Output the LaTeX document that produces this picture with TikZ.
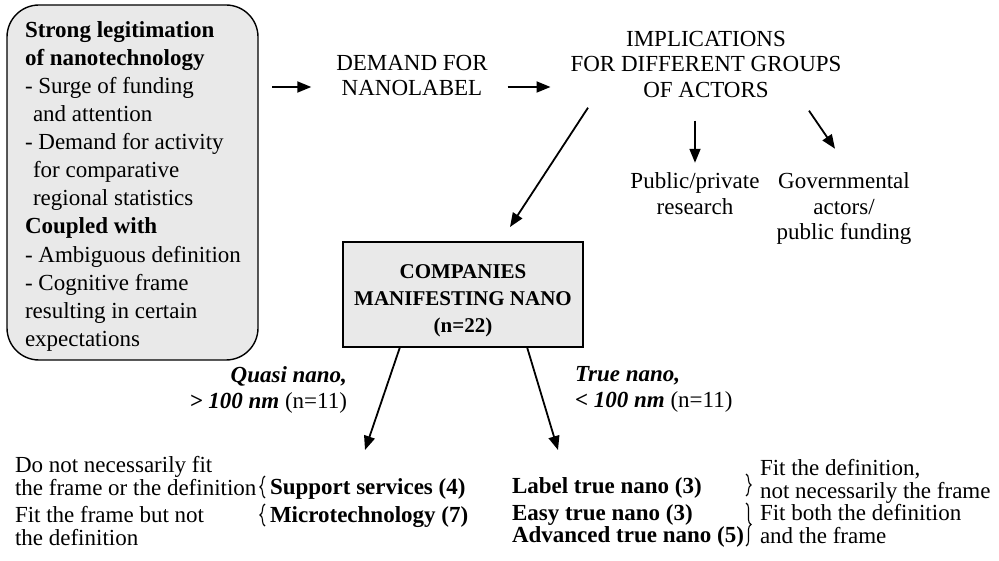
\documentclass[tikz,border=0pt]{standalone}
\usepackage{fontspec}
\setmainfont{Liberation Serif}
\usetikzlibrary{arrows.meta,decorations.pathreplacing}
\definecolor{panel}{HTML}{E9E9E9}
\begin{document}
\begin{tikzpicture}[x=1pt,y=-1pt,
  every node/.style={inner sep=0pt,outer sep=0pt},
  txt/.style={font=\fontsize{23}{25.5}\selectfont},
  sidetxt/.style={font=\fontsize{23}{23.5}\selectfont},
  paneltxt/.style={font=\fontsize{23}{28.1}\selectfont},
  flow/.style={line width=1.8pt,-{Triangle[length=14pt,width=11pt]}},
  panelbox/.style={draw,line width=1.4pt,fill=panel},
  curly/.style={line width=1.1pt,decorate,decoration={brace,amplitude=5pt}}]
\useasboundingbox (0,0) rectangle (999,561);

% left panel: context of the nanolabel
\node[panelbox,rounded corners=32pt,minimum width=251pt,minimum height=355pt] (legit) at (132.5,182.5) {};
\node[paneltxt,align=left,anchor=north west] (legittext) at (25,21.3) {%
\textbf{Strong legitimation}\\
\textbf{of nanotechnology}\\
- Surge of funding\\
\hspace*{8pt}and attention\\
- Demand for activity\\
\hspace*{8pt}for comparative\\
\hspace*{8pt}regional statistics\\
\textbf{Coupled with}\\
- Ambiguous definition\\
- Cognitive frame\\
resulting in certain\\
expectations};

% top row
\coordinate (row) at (0,87);
\node[txt,align=center] (demand) at (412,75.4) {DEMAND FOR\\NANOLABEL};
\node[txt,align=center] (impl) at (706,64.5) {IMPLICATIONS\\FOR DIFFERENT GROUPS\\OF ACTORS};
\node[txt,align=center] (pub) at (695,193.6) {Public/private\\research};
\node[txt,align=center] (gov) at (844,208.7) {Governmental\\actors/\\public funding};

% central box
\node[panelbox,minimum width=240pt,minimum height=105pt] (comp) at (463,294.5) {};
\node[font=\fontsize{21}{27}\selectfont\bfseries,align=center] (comptext) at (463,300.3) {COMPANIES\\MANIFESTING NANO\\(n=22)};

% branch labels
\node[txt,align=right,anchor=north east] (quasi) at (347,366.8) {\textbf{\textit{Quasi nano,}}\\\textbf{\textit{> 100 nm}} (n=11)};
\node[txt,align=left,anchor=north west] (truen) at (575,366.8) {\textbf{\textit{True nano,}}\\\textbf{\textit{< 100 nm}} (n=11)};

% left categories
\node[sidetxt,align=left,anchor=north west] (notfit) at (15,456.3) {Do not necessarily fit\\the frame or the definition};
\node[sidetxt,align=left,anchor=north west] (framefit) at (15,506.3) {Fit the frame but not\\the definition};
\node[txt,anchor=base west] (support) at (270,494) {\textbf{Support services (4)}};
\node[txt,anchor=base west] (micro) at (270,522) {\textbf{Microtechnology (7)}};
\draw[curly] (265,498) -- (265,476);
\draw[curly] (265,526) -- (265,504);

% right categories
\node[txt,anchor=base west] (label) at (512,493) {\textbf{Label true nano (3)}};
\node[txt,anchor=base west] (easy) at (512,520) {\textbf{Easy true nano (3)}};
\node[txt,anchor=base west] (adv) at (512,542) {\textbf{Advanced true nano (5)}};
\draw[curly] (746,474) -- (746,496);
\draw[curly] (746,503) -- (746,546);
\node[sidetxt,align=left,anchor=north west] (deffit) at (760,459.3) {Fit the definition,\\not necessarily the frame};
\node[sidetxt,align=left,anchor=north west] (bothfit) at (760,504.3) {Fit both the definition\\and the frame};

% arrow tips
\coordinate (qtip) at (365,450);
\coordinate (ttip) at (558,450);

% connectors
\draw[flow] ([xshift=14pt]legit.east |- row) -- ([xshift=-25pt]demand.west |- row);
\draw[flow] ([xshift=20pt]demand.east |- row) -- ([xshift=-20pt]impl.west |- row);
\draw[flow] ([shift={(-118,10)}]impl.south) -- ([shift={(47,-15)}]comp.north);
\draw[flow] ([shift={(0,23)}]pub.north |- impl.south) -- ([shift={(0,-10)}]pub.north);
\draw[flow] ([shift={(103,13)}]impl.south) -- ([shift={(-9,-24)}]gov.north);
\draw[flow] ([xshift=-63pt]comp.south) -- (qtip);
\draw[flow] ([xshift=64pt]comp.south) -- (ttip);
\end{tikzpicture}
\end{document}
